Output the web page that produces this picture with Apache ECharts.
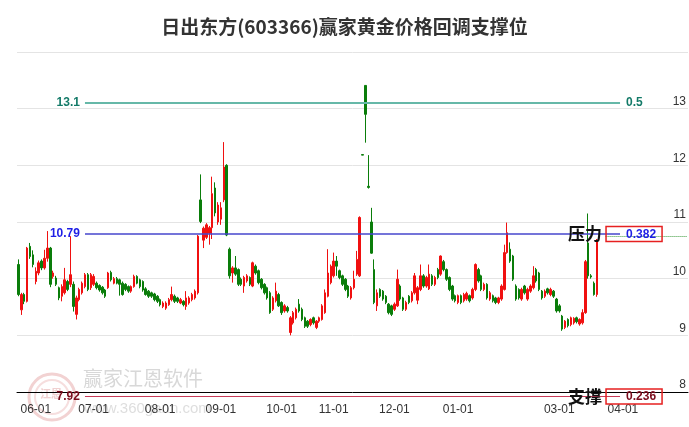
<!DOCTYPE html>
<html><head><meta charset="utf-8">
<script src="https://cdn.jsdelivr.net/npm/echarts@6/dist/echarts.min.js"></script>
<style>html,body{margin:0;padding:0;background:#fff}#c{width:689px;height:427px}</style>
</head><body><div id="c"></div>
<script>
// ---- data ----
const categoryCount = 232; // trading-day slots on the axis (incl. future slots)
const tickIndex  = [6, 26, 49, 70, 91, 109, 130, 152, 187, 209];
const tickLabels = ['06-01','07-01','08-01','09-01','10-01','11-01','12-01','01-01','03-01','04-01'];
// [open, close, low, high]
const ohlc = [
[10.25,9.72,9.69,10.34],[9.45,9.72,9.36,9.75],[9.72,9.6,9.55,9.75],[9.6,10.54,9.58,10.56],[10.57,10.39,10.35,10.63],
[10.42,10.25,10.2,10.5],[9.95,10.13,9.9,10.2],[10.1,10.28,10.06,10.32],[10.31,10.19,10.15,10.34],[10.19,10.36,10.16,10.51],
[10.36,10.54,10.3,10.84],[10.54,9.9,9.85,10.56],[10.04,10.1,10.0,10.14],[10.01,9.9,9.87,10.05],[9.84,9.66,9.62,9.86],
[9.69,9.86,9.6,9.9],[9.75,9.98,9.72,10.19],[9.95,9.81,9.78,9.98],[9.9,10.07,9.85,10.75],[9.9,9.51,9.42,9.95],
[9.37,9.66,9.28,9.7],[9.63,9.81,9.6,9.84],[9.75,9.92,9.72,9.95],[9.86,10.07,9.83,10.1],[10.07,9.81,9.78,10.1],
[9.84,10.07,9.8,10.1],[9.9,10.04,9.87,10.08],[9.92,9.84,9.81,9.95],[9.88,9.8,9.77,9.9],[9.85,9.75,9.72,9.87],
[9.8,9.69,9.66,9.82],[9.84,10.1,9.82,10.12],[10.11,9.98,9.95,10.14],[9.92,10.0,9.9,10.03],[10.0,9.92,9.9,10.03],
[9.98,9.9,9.7,10.0],[9.92,9.72,9.7,9.95],[9.9,9.81,9.78,9.92],[9.86,9.78,9.75,9.88],[9.78,9.86,9.75,9.88],
[9.86,10.04,9.84,10.07],[10.04,9.92,9.9,10.06],[9.98,9.86,9.83,10.0],[9.95,9.8,9.77,9.97],[9.82,9.72,9.7,9.85],
[9.78,9.69,9.66,9.8],[9.75,9.69,9.66,9.77],[9.73,9.63,9.6,9.75],[9.69,9.6,9.57,9.71],[9.63,9.54,9.51,9.65],
[9.51,9.57,9.48,9.6],[9.48,9.57,9.45,9.6],[9.54,9.63,9.52,9.66],[9.63,9.72,9.6,9.86],[9.69,9.6,9.57,9.72],
[9.66,9.6,9.57,9.68],[9.57,9.63,9.55,9.66],[9.6,9.54,9.51,9.62],[9.51,9.66,9.45,9.78],[9.57,9.66,9.54,9.69],
[9.63,9.72,9.6,9.75],[9.66,9.78,9.63,9.81],[9.75,10.75,9.72,10.77],[11.39,11.01,10.98,11.84],[10.68,10.89,10.54,10.92],
[10.73,10.95,10.7,10.98],[10.8,10.9,10.6,10.93],[10.9,11.5,10.7,11.8],[11.6,11.16,11.1,11.7],[11.0,11.3,10.95,11.35],
[11.05,11.25,10.95,11.35],[11.39,11.97,11.35,12.41],[12.0,10.77,10.75,12.02],[10.52,10.05,10.0,10.55],[10.1,10.19,9.93,10.22],
[10.19,10.08,10.05,10.4],[10.16,9.9,9.87,10.18],[9.99,9.9,9.87,10.02],[9.87,10.02,9.75,10.05],[9.96,10.05,9.93,10.08],
[10.02,9.9,9.87,10.04],[9.87,10.28,9.85,10.3],[10.22,10.1,10.07,10.25],[10.14,9.93,9.9,10.16],[9.99,9.84,9.81,10.01],
[9.9,9.75,9.72,9.92],[9.84,9.66,9.63,9.86],[9.75,9.4,9.38,9.78],[9.46,9.66,9.43,9.69],[9.61,9.78,9.58,9.93],
[9.72,9.52,9.5,9.75],[9.58,9.4,9.36,9.6],[9.43,9.52,9.4,9.55],[9.49,9.43,9.4,9.52],[9.05,9.31,9.0,9.34],
[9.22,9.4,9.19,9.43],[9.31,9.46,9.28,9.49],[9.55,9.43,9.4,9.64],[9.46,9.28,9.25,9.49],[9.31,9.16,9.13,9.33],
[9.25,9.16,9.13,9.27],[9.19,9.28,9.16,9.3],[9.31,9.22,9.19,9.33],[9.14,9.25,9.11,9.27],[9.25,9.31,9.22,9.33],
[9.28,9.52,9.26,9.55],[9.4,9.75,9.38,9.81],[9.69,10.1,9.67,10.52],[9.93,10.22,9.9,10.25],[10.05,10.31,10.02,10.46],
[10.31,10.22,10.05,10.4],[10.14,10.02,9.99,10.16],[10.05,9.9,9.87,10.07],[9.99,9.81,9.78,10.01],[9.87,9.69,9.66,9.89],
[9.66,9.84,9.63,9.87],[9.84,9.99,9.81,10.14],[10.08,10.34,10.05,10.49],[10.05,11.08,10.03,11.1],[12.19,12.18,12.18,12.19],
[13.41,12.9,12.4,13.41],[11.63,11.61,11.59,12.18],[11.0,10.45,10.44,11.25],[10.16,9.58,9.55,10.34],[9.52,9.75,9.43,9.81],
[9.81,9.69,9.66,9.83],[9.78,9.64,9.61,9.8],[9.69,9.58,9.55,9.71],[9.55,9.4,9.37,9.57],[9.52,9.37,9.34,9.54],
[9.46,9.55,9.43,9.58],[9.52,9.99,9.5,10.16],[9.87,9.64,9.61,9.9],[9.66,9.46,9.43,9.68],[9.46,9.58,9.43,9.61],
[9.69,9.58,9.55,9.71],[9.61,9.75,9.58,9.78],[9.75,10.05,9.72,10.1],[9.62,9.84,9.55,9.87],[9.81,10.05,9.78,10.25],
[10.05,9.87,9.84,10.08],[9.87,10.02,9.84,10.05],[9.82,10.08,9.8,10.25],[10.05,9.9,9.87,10.08],[9.9,10.02,9.87,10.05],
[10.16,10.02,9.99,10.19],[10.08,10.4,10.05,10.41],[10.3,10.16,10.13,10.33],[10.16,9.99,9.96,10.18],[10.02,9.81,9.78,10.04],
[9.87,9.64,9.61,9.89],[9.7,9.61,9.58,9.72],[9.58,9.7,9.55,9.72],[9.7,9.58,9.55,9.72],[9.61,9.72,9.58,9.75],
[9.64,9.74,9.61,9.77],[9.7,9.61,9.58,9.72],[9.66,9.81,9.63,9.84],[9.81,10.25,9.78,10.27],[10.16,9.96,9.93,10.19],
[10.05,9.81,9.78,10.07],[9.81,9.9,9.78,9.93],[9.9,9.66,9.63,9.92],[9.64,9.75,9.61,9.78],[9.7,9.61,9.58,9.72],
[9.66,9.58,9.55,9.68],[9.58,9.66,9.55,9.68],[9.64,9.87,9.61,9.9],[9.81,10.46,9.79,10.6],[10.46,10.81,10.44,10.99],
[10.52,10.31,10.28,10.64],[10.4,9.99,9.96,10.42],[9.87,9.64,9.61,9.9],[9.81,9.66,9.63,9.83],[9.64,9.81,9.61,9.84],
[9.87,9.75,9.72,9.89],[9.64,9.81,9.61,9.84],[9.78,9.87,9.75,9.9],[9.84,10.05,9.81,10.22],[10.16,9.96,9.93,10.19],
[10.1,9.81,9.78,10.12],[9.78,9.66,9.63,9.8],[9.69,9.78,9.66,9.81],[9.82,9.75,9.72,9.84],[9.72,9.81,9.69,9.84],
[9.78,9.69,9.66,9.8],[9.64,9.43,9.4,9.66],[9.52,9.43,9.4,9.55],[9.34,9.11,9.08,9.36],[9.14,9.25,9.11,9.27],
[9.28,9.17,9.14,9.3],[9.19,9.31,9.16,9.33],[9.22,9.3,9.19,9.32],[9.31,9.24,9.21,9.33],[9.2,9.28,9.17,9.3],
[9.22,9.4,9.19,9.46],[9.4,10.3,9.38,10.33],[10.63,10.05,10.0,11.15],[10.05,10.03,10.0,10.08],[9.92,9.72,9.7,9.95],
[9.72,10.68,9.68,10.7]
];
const levelValues = [13.1, 10.79, 7.92];
const levelRatios = ['0.5', '0.382', '0.236'];
const levelTags   = ['', '压力', '支撑'];
const levelStart = 23, levelEnd = 208;
const dottedLevel = 10.75, dottedStart = 203, dottedEnd = 231;

// ---- chart ----
const categories = Array.from({length: categoryCount}, (_, i) => String(i));
const lineColors  = ['#66b8a8', '#4646cc', '#c83a58'];
const labelColors = ['#137a68', '#1e1ee6', '#7a0c1c'];
const isTick = idx => tickIndex.indexOf(idx) >= 0;
const numFont = 'Liberation Sans, Arial, sans-serif';

function levelItems(k, fromPt, toPt) {
  const startLabel = {show: true, position: 'start', distance: 5, formatter: String(levelValues[k]),
    color: labelColors[k], fontWeight: 'bold', fontSize: 12, fontFamily: numFont};
  let endLabel;
  if (levelTags[k]) {
    endLabel = {show: true, position: 'end', distance: -52, opacity: 1,
      formatter: '{t|' + levelTags[k] + '}{b|' + levelRatios[k] + '}',
      rich: {
        t: {fontSize: 17, fontWeight: 'bold', color: '#111', padding: [0, 4, 0, 0], verticalAlign: 'middle',
            fontFamily: 'Noto Sans CJK SC'},
        b: {fontSize: 12, fontWeight: 'bold', color: labelColors[k], borderColor: '#e62020', borderWidth: 1.5,
            padding: [2, 6, 1, 20], verticalAlign: 'middle', fontFamily: numFont}
      }};
  } else {
    endLabel = {show: true, position: 'end', distance: 6, opacity: 1, formatter: levelRatios[k],
      color: labelColors[k], fontWeight: 'bold', fontSize: 12, fontFamily: numFont};
  }
  const ls = {color: lineColors[k], width: k === 0 ? 2 : (k === 1 ? 1.5 : 1.2), type: 'solid'};
  return [
    [Object.assign({lineStyle: ls, label: startLabel}, fromPt), Object.assign({}, toPt)],
    [Object.assign({lineStyle: {color: 'rgba(0,0,0,0)', width: 1}, label: endLabel}, fromPt), Object.assign({}, toPt)]
  ];
}

function buildMarkData(supportPx) {
  let d = [];
  d = d.concat(levelItems(0, {coord: [levelStart, levelValues[0]]}, {coord: [levelEnd, levelValues[0]]}));
  d = d.concat(levelItems(1, {coord: [levelStart, levelValues[1]]}, {coord: [levelEnd, levelValues[1]]}));
  d.push([{coord: [dottedStart, dottedLevel], lineStyle: {color: '#3a9a3a', type: 'dotted', width: 1}, label: {show: false}},
          {coord: [dottedEnd, dottedLevel]}]);
  if (supportPx) {
    d = d.concat(levelItems(2, {x: supportPx[0][0], y: supportPx[0][1]}, {x: supportPx[1][0], y: supportPx[1][1]}));
  }
  return d;
}

function buildOption(supportPx) {
  return {
    animation: false,
    backgroundColor: '#fff',
    title: {text: '日出东方(603366)赢家黄金价格回调支撑位', left: 'center', top: 12,
      textStyle: {fontSize: 19, fontWeight: 'bold', color: '#333', fontFamily: 'Noto Sans CJK SC'}},
    graphic: [
      {type: 'circle', z: -10, shape: {cx: 52, cy: 397, r: 23}, style: {fill: 'none', stroke: '#f2d2d2', lineWidth: 3}},
      {type: 'circle', z: -10, shape: {cx: 52, cy: 397, r: 17}, style: {fill: 'none', stroke: '#f6dede', lineWidth: 2}},
      {type: 'text', z: -10, left: 40, top: 388, style: {text: '江恩', fill: '#f0d0d0', font: 'bold 11px "Noto Sans CJK SC"'}},
      {type: 'text', z: -10, left: 83, top: 368, style: {text: '赢家江恩软件', fill: '#d8d8d8', font: '20px "Noto Sans CJK SC"'}},
      {type: 'text', z: -10, left: 84, top: 401, style: {text: 'www.360gann.com', fill: '#dedede', font: '15px "Liberation Sans"'}}
    ],
    grid: {left: 17, right: 0, top: 52, bottom: 35},
    xAxis: {
      type: 'category', data: categories, boundaryGap: true,
      axisLine: {lineStyle: {color: '#000', width: 1}},
      axisTick: {alignWithLabel: true, interval: isTick, length: 6, lineStyle: {color: '#000'}},
      axisLabel: {interval: isTick, margin: 12, color: '#333', fontSize: 12, fontFamily: numFont,
        formatter: (v, idx) => { const k = tickIndex.indexOf(idx); return k >= 0 ? tickLabels[k] : ''; }},
      splitLine: {show: false}
    },
    yAxis: {
      type: 'value', position: 'right', min: 8, max: 14, interval: 1, scale: true,
      axisLine: {show: false}, axisTick: {show: false},
      axisLabel: {inside: true, margin: 2, verticalAlign: 'bottom', color: '#333', fontSize: 12,
        fontFamily: numFont, showMaxLabel: false, padding: [0, 0, 1, 0]},
      splitLine: {lineStyle: {color: '#e4e4e4', width: 1}}
    },
    series: [{
      id: 'k', type: 'candlestick', data: ohlc, barWidth: 2, clip: false,
      itemStyle: {color: '#f01010', color0: '#0a7d0a', borderColor: '#f01010', borderColor0: '#0a7d0a', borderWidth: 1},
      markLine: {silent: true, symbol: ['none', 'none'], animation: false, data: buildMarkData(supportPx)}
    }]
  };
}

const chart = echarts.init(document.getElementById('c'));
chart.setOption(buildOption(null));
const p0 = chart.convertToPixel({gridIndex: 0}, [levelStart, levelValues[2]]);
const p1 = chart.convertToPixel({gridIndex: 0}, [levelEnd, levelValues[2]]);
chart.setOption(buildOption([p0, p1]), true);
</script></body></html>
